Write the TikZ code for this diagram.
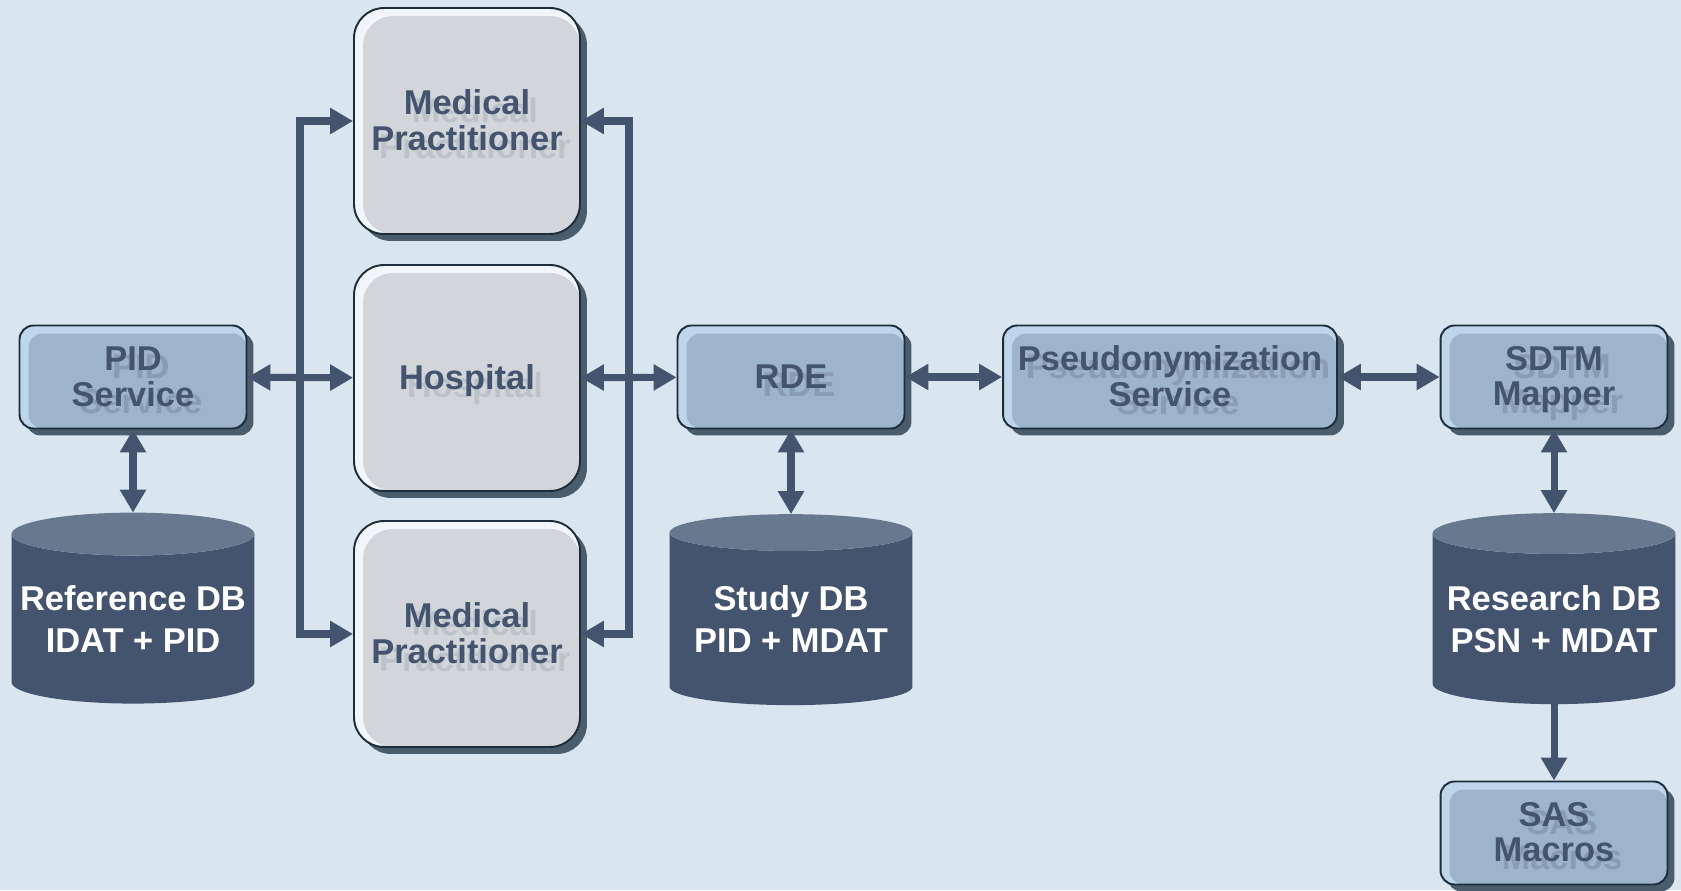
\documentclass[tikz,border=0pt]{standalone}
\usepackage{fontspec}
\setmainfont{Liberation Sans}
\usetikzlibrary{positioning, arrows.meta, shapes.geometric, shadows, calc}

\definecolor{bgc}{HTML}{D9E5EF}
\definecolor{inkc}{HTML}{44546F}
\definecolor{edgec}{HTML}{1E2D3B}
\definecolor{shadowc}{HTML}{4A5D6C}
\definecolor{blueface}{HTML}{9EB4CC}
\definecolor{bluelight}{HTML}{BFD5EB}
\definecolor{greyface}{HTML}{D2D6DA}
\definecolor{greylight}{HTML}{F2F6FA}
\definecolor{dbbody}{HTML}{44546F}
\definecolor{dbtop}{HTML}{68788F}
\definecolor{ghostblue}{HTML}{8A9CB2}
\definecolor{ghostgrey}{HTML}{BCC2C9}
\colorlet{ghostc}{ghostblue}

\newcommand{\lbl}[1]{\begin{tabular}{@{}c@{}}#1\end{tabular}}
\newcommand{\ghost}[1]{\makebox[0pt][l]{\hspace{4.5pt}\raisebox{-4.5pt}[0pt][0pt]{\textcolor{ghostc}{\lbl{#1}}}}%
	\raisebox{0pt}[\dimexpr\height+4.8pt\relax][\depth]{\lbl{#1}}}
\newcommand{\dbtext}[1]{\raisebox{0pt}[\dimexpr\height+5pt\relax][\depth]{\lbl{#1}}}

\begin{document}
\begin{tikzpicture}[x=0.02cm, y=-0.02cm,
	>={Triangle[length=0.46cm, width=0.5cm]},
	box/.style={draw=edgec, line width=1.1pt, text=inkc, inner sep=0pt,
		font=\bfseries\fontsize{19.6}{20}\selectfont,
		drop shadow={shadow xshift=0.14cm, shadow yshift=-0.14cm, fill=shadowc, opacity=1}},
	smallbox/.style={box, rounded corners=0.28cm, fill=bluelight,
		minimum width=4.54cm, minimum height=2.06cm,
		execute at begin node=\colorlet{ghostc}{ghostblue},
		path picture={\fill[blueface, rounded corners=0.28cm]
			([xshift=0.18cm]path picture bounding box.south west) rectangle
			([yshift=-0.16cm]path picture bounding box.north east);}},
	bigbox/.style={box, rounded corners=0.6cm, fill=greylight,
		minimum width=4.52cm, minimum height=4.52cm,
		execute at begin node=\colorlet{ghostc}{ghostgrey},
		path picture={\fill[greyface, rounded corners=0.6cm]
			([xshift=0.18cm]path picture bounding box.south west) rectangle
			([yshift=-0.16cm]path picture bounding box.north east);}},
	db/.style={cylinder, shape border rotate=90, aspect=0.19, draw=none,
		cylinder uses custom fill, cylinder body fill=dbbody, cylinder end fill=dbtop,
		minimum width=4.86cm, minimum height=3.82cm, inner sep=0pt, outer sep=0pt,
		text=white, font=\bfseries\fontsize{19.6}{24}\selectfont},
	link/.style={draw=inkc, line width=4pt, line join=miter}
]
\fill[bgc] (0,0) rectangle (1681,890);
\useasboundingbox (0,0) rectangle (1681,890);

% boxes
\node[smallbox] (pid) at (133,377) {\ghost{PID\\Service}};
\node[bigbox] (mpA) at (467,121) {\ghost{Medical\\Practitioner}};
\node[bigbox] (hosp) at (467,378) {\ghost{Hospital}};
\node[bigbox] (mpB) at (467,634) {\ghost{Medical\\Practitioner}};
\node[smallbox] (rde) at (791,377) {\ghost{RDE}};
\node[smallbox, minimum width=6.68cm] (pseudo) at (1170,377) {\ghost{Pseudonymization\\Service}};
\node[smallbox] (sdtm) at (1554,377) {\ghost{SDTM\\Mapper}};
\node[smallbox] (sas) at (1554,833) {\ghost{SAS\\Macros}};

% databases
\node[db] (refdb) at (133,619) {\dbtext{Reference DB\\IDAT + PID}};
\node[db] (studydb) at (791,619) {\dbtext{Study DB\\PID + MDAT}};
\node[db] (resdb) at (1554,619) {\dbtext{Research DB\\PSN + MDAT}};

% links
\coordinate (lbus) at (300,378);
\coordinate (rbus) at (629,378);
\draw[link,<->] (pid) -- (hosp);
\draw[link,->] (lbus) |- (mpA);
\draw[link,->] (lbus) |- (mpB);
\draw[link,<->] (hosp) -- (rde);
\draw[link,->] (rbus) |- (mpA);
\draw[link,->] (rbus) |- (mpB);
\draw[link,<->] (pid) -- (refdb.top);
\draw[link,<->] (rde) -- (studydb.top);
\draw[link,<->] (rde) -- (pseudo);
\draw[link,<->] (pseudo) -- (sdtm);
\draw[link,<->] (sdtm) -- (resdb.top);
\draw[link,->] (resdb.bottom) -- (sas);
\end{tikzpicture}
\end{document}
